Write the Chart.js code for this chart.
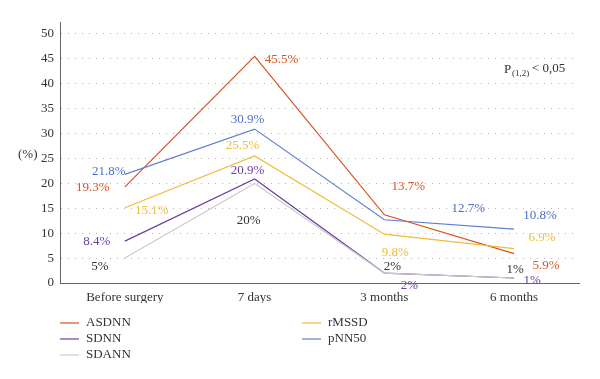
<!DOCTYPE html>
<html lang="en">
<head>
<meta charset="UTF-8">
<title>HRV changes</title>
<script src="https://cdn.jsdelivr.net/npm/chart.js"></script>
<style>
  html, body { margin: 0; padding: 0; background: #fff; }
  #wrap { position: relative; width: 600px; height: 379px; }
</style>
</head>
<body>
<div id="wrap"><canvas id="hrvChart" width="600" height="379"></canvas></div>
<script>
// data
const periods = ['Before surgery', '7 days', '3 months', '6 months'];
const asdnn = [19.3, 45.5, 13.7, 5.9];
const sdnn = [8.4, 20.9, 2, 1];
const sdann = [5, 20, 2, 1];
const rmssd = [15.1, 25.5, 9.8, 6.9];
const pnn50 = [21.8, 30.9, 12.7, 10.8];
const yTicks = [0, 5, 10, 15, 20, 25, 30, 35, 40, 45, 50];

const serif = '"Liberation Serif", "DejaVu Serif", serif';

// label placement relative to each point (px), per series
const labelOffsets = {
    ASDNN: [[-32, 1], [27, 3], [24, -28], [32, 12]],
    SDNN: [[-28, 0], [-7, -8], [25, 13], [18, 3]],
    SDANN: [[-25, 8], [-6, 37], [8, -6], [1, -8]],
    rMSSD: [[27, 3], [-12, -10], [11, 18], [28, -11]],
    pNN50: [[-16, -3], [-7, -10], [84, -11], [26, -14]]
};

function series(label, data, color, textColor) {
    return {
        label: label,
        data: data,
        borderColor: color,
        backgroundColor: color,
        textColor: textColor,
        borderWidth: 1.2,
        pointRadius: 0,
        tension: 0,
        fill: false
    };
}

const datasets = [
    series('SDANN', sdann, '#cccccc', '#333333'),
    series('SDNN', sdnn, '#6b3fa3', '#6b3fa3'),
    series('rMSSD', rmssd, '#f1bb3a', '#f1bb3a'),
    series('pNN50', pnn50, '#5f7fd3', '#4b70c8'),
    series('ASDNN', asdnn, '#d8531f', '#d8531f')
];

const pointLabels = {
    id: 'pointLabels',
    afterDatasetsDraw(chart) {
        const ctx = chart.ctx;
        ctx.save();
        ctx.font = '13px ' + serif;
        ctx.textAlign = 'center';
        ctx.textBaseline = 'middle';
        chart.data.datasets.forEach((ds, i) => {
            const meta = chart.getDatasetMeta(i);
            meta.data.forEach((pt, j) => {
                const off = labelOffsets[ds.label][j];
                ctx.fillStyle = ds.textColor;
                ctx.fillText(ds.data[j] + '%', pt.x + off[0], pt.y + off[1]);
            });
        });
        ctx.restore();
    }
};

const extras = {
    id: 'extras',
    afterDraw(chart) {
        const ctx = chart.ctx;
        const area = chart.chartArea;
        ctx.save();
        ctx.fillStyle = '#333';
        ctx.textBaseline = 'middle';
        ctx.font = '13px ' + serif;
        ctx.textAlign = 'left';
        ctx.fillText('(%)', 18, 155);
        // p value note
        ctx.fillText('P', 504, 70);
        ctx.font = '9px ' + serif;
        ctx.fillText('(1,2)', 512, 74);
        ctx.font = '13px ' + serif;
        ctx.fillText('< 0,05', 532, 69);

        // legend in two columns
        const order = [['ASDNN', 60, 323], ['SDNN', 60, 339], ['SDANN', 60, 355],
                       ['rMSSD', 302, 323], ['pNN50', 302, 339]];
        order.forEach(([name, x, y]) => {
            const ds = chart.data.datasets.find(d => d.label === name);
            ctx.strokeStyle = ds.borderColor;
            ctx.lineWidth = 1.2;
            ctx.beginPath();
            ctx.moveTo(x, y);
            ctx.lineTo(x + 19, y);
            ctx.stroke();
            ctx.fillStyle = '#333';
            ctx.fillText(name, x + 26, y);
        });
        ctx.restore();
    }
};

new Chart(document.getElementById('hrvChart'), {
    type: 'line',
    data: { labels: periods, datasets: datasets },
    options: {
        responsive: false,
        animation: false,
        layout: { padding: { top: 22, right: 21, bottom: 76, left: 0 } },
        plugins: { legend: { display: false }, tooltip: { enabled: false } },
        scales: {
            x: {
                offset: true,
                grid: { display: false, drawTicks: false },
                border: { color: '#666', width: 1 },
                ticks: { color: '#333', font: { family: serif, size: 13 }, padding: 7 },
                afterFit(scale) { scale.height = 20; }
            },
            y: {
                min: 0,
                max: 52.4,
                afterBuildTicks(scale) { scale.ticks = yTicks.map(v => ({ value: v })); },
                grid: { color: '#b5b5b5', drawTicks: false, lineWidth: 1 },
                border: { color: '#666', width: 1, dash: [1, 6] },
                ticks: { color: '#333', font: { family: serif, size: 13 }, padding: 6 },
                afterFit(scale) { scale.width = 60; }
            }
        }
    },
    plugins: [pointLabels, extras]
});
</script>
</body>
</html>
